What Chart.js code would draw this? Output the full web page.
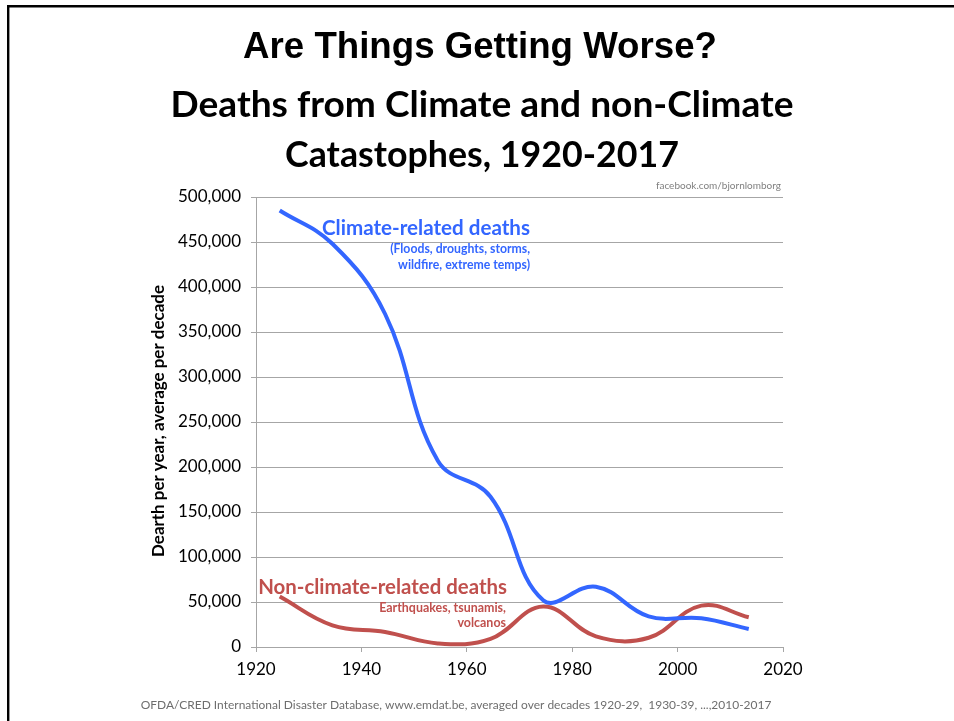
<!DOCTYPE html>
<html>
<head>
<meta charset="utf-8">
<title>Deaths from Climate and non-Climate Catastophes, 1920-2017</title>
<script src="https://cdn.jsdelivr.net/npm/chart.js@4/dist/chart.umd.min.js"></script>
<style>
  html, body { margin: 0; padding: 0; background: #ffffff; }
  canvas { display: block; }
</style>
</head>
<body>
<canvas id="chart" width="954" height="721"></canvas>
<script>
// Decade mid-points (1920-29 ... 2010-17)
const decadeMidYears = [1924.5, 1934.5, 1944.5, 1954.5, 1964.5, 1974.5, 1984.5, 1994.5, 2004.5, 2013.5];
// Deaths per year, averaged per decade
const climateDeaths    = [485000, 448000, 370000, 207000, 167000, 52000, 67000, 34000, 32000, 20000];
const nonClimateDeaths = [56000, 24000, 16700, 4000, 9000, 45000, 11800, 10300, 46000, 33000];
// Axis ticks
const yearTicks  = [1920, 1940, 1960, 1980, 2000, 2020];
const deathTicks = [0, 50000, 100000, 150000, 200000, 250000, 300000, 350000, 400000, 450000, 500000];

const BLUE = '#3366ff';
const RED  = '#c0504d';
const GRID = '#a6a6a6';
const SANS = 'Lato, "Open Sans", sans-serif';

function toPoints(xs, ys) { return xs.map((x, i) => ({ x: x, y: ys[i] })); }

// Pick a font size so that the text spans the given width
function fitFont(ctx, text, width, weight, family) {
  ctx.font = weight + ' 100px ' + family;
  const w = ctx.measureText(text).width;
  return weight + ' ' + (100 * width / w).toFixed(2) + 'px ' + family;
}

const decorations = {
  id: 'decorations',
  afterDraw(chart) {
    const ctx = chart.ctx;
    const x = chart.scales.x;
    ctx.save();

    // Frame
    ctx.fillStyle = '#000';
    ctx.fillRect(7, 5, 947, 2.5);
    ctx.fillRect(7, 5, 2.4, 716);

    // Headings
    ctx.textAlign = 'center';
    ctx.textBaseline = 'alphabetic';
    ctx.fillStyle = '#000';
    ctx.font = fitFont(ctx, 'Are Things Getting Worse?', 474, 'bold', '"Liberation Sans", Arial, sans-serif');
    ctx.fillText('Are Things Getting Worse?', 480, 58);
    ctx.font = fitFont(ctx, 'Deaths from Climate and non-Climate', 623, 'bold', SANS);
    ctx.fillText('Deaths from Climate and non-Climate', 482, 117);
    ctx.font = fitFont(ctx, 'Catastophes, 1920-2017', 394, 'bold', SANS);
    ctx.fillText('Catastophes, 1920-2017', 482, 167);

    // Credit
    ctx.textAlign = 'right';
    ctx.fillStyle = '#808080';
    ctx.font = '10px ' + SANS;
    ctx.fillText('facebook.com/bjornlomborg', x.right - 2, 189);

    // Source note
    ctx.textAlign = 'center';
    ctx.fillStyle = '#6e6e6e';
    ctx.font = fitFont(ctx, 'OFDA/CRED International Disaster Database, www.emdat.be, averaged over decades 1920-29,  1930-39, ...,2010-2017', 631, 'normal', SANS);
    ctx.fillText('OFDA/CRED International Disaster Database, www.emdat.be, averaged over decades 1920-29,  1930-39, ...,2010-2017', 456, 709);

    // Vertical axis title
    ctx.save();
    ctx.translate(159, 421);
    ctx.rotate(-Math.PI / 2);
    ctx.fillStyle = '#000';
    ctx.font = fitFont(ctx, 'Dearth per year, average per decade', 272, 'bold', SANS);
    ctx.textAlign = 'center';
    ctx.textBaseline = 'middle';
    ctx.fillText('Dearth per year, average per decade', 0, 0);
    ctx.restore();

    // Series labels
    ctx.textAlign = 'right';
    ctx.textBaseline = 'middle';
    ctx.fillStyle = BLUE;
    ctx.font = fitFont(ctx, 'Climate-related deaths', 208, 'bold', SANS);
    ctx.fillText('Climate-related deaths', 530, 228);
    ctx.font = fitFont(ctx, '(Floods, droughts, storms,', 140, 'bold', SANS);
    ctx.fillText('(Floods, droughts, storms,', 530, 249);
    ctx.fillText('wildfire, extreme temps)', 530, 265);

    ctx.fillStyle = RED;
    ctx.font = fitFont(ctx, 'Non-climate-related deaths', 249, 'bold', SANS);
    ctx.fillText('Non-climate-related deaths', 507, 587);
    ctx.font = fitFont(ctx, 'Earthquakes, tsunamis,', 127, 'bold', SANS);
    ctx.fillText('Earthquakes, tsunamis,', 506, 608);
    ctx.fillText('volcanos', 506, 623);

    ctx.restore();
  }
};

new Chart(document.getElementById('chart'), {
  type: 'line',
  data: {
    datasets: [
      {
        label: 'Climate-related deaths',
        data: toPoints(decadeMidYears, climateDeaths),
        borderColor: BLUE,
        borderWidth: 4,
        pointRadius: 0,
        tension: 0.4,
        fill: false
      },
      {
        label: 'Non-climate-related deaths',
        data: toPoints(decadeMidYears, nonClimateDeaths),
        borderColor: RED,
        borderWidth: 4,
        pointRadius: 0,
        tension: 0.4,
        fill: false
      }
    ]
  },
  options: {
    responsive: false,
    animation: false,
    devicePixelRatio: 1,
    layout: { padding: { left: 0, top: 197, right: 171, bottom: 0 } },
    plugins: {
      legend: { display: false },
      title: { display: false },
      tooltip: { enabled: false }
    },
    scales: {
      x: {
        type: 'linear',
        min: yearTicks[0],
        max: yearTicks[yearTicks.length - 1],
        afterBuildTicks: (s) => { s.ticks = yearTicks.map(v => ({ value: v })); },
        afterFit: (s) => { s.height = 74; },
        grid: { drawOnChartArea: false, drawTicks: true, tickLength: 5, color: GRID },
        border: { display: true, color: GRID, width: 1 },
        ticks: {
          color: '#000',
          font: { family: SANS, size: 17 },
          padding: 7,
          maxRotation: 0,
          callback: (v) => String(v)
        }
      },
      y: {
        type: 'linear',
        min: deathTicks[0],
        max: deathTicks[deathTicks.length - 1],
        afterBuildTicks: (s) => { s.ticks = deathTicks.map(v => ({ value: v })); },
        afterFit: (s) => { s.width = 256; },
        grid: { drawTicks: true, tickLength: 5, color: GRID, lineWidth: 1 },
        border: { display: true, color: GRID, width: 1 },
        ticks: {
          color: '#000',
          font: { family: SANS, size: 17 },
          padding: 10,
          callback: (v) => v.toLocaleString('en-US')
        }
      }
    }
  },
  plugins: [decorations]
});
</script>
</body>
</html>
